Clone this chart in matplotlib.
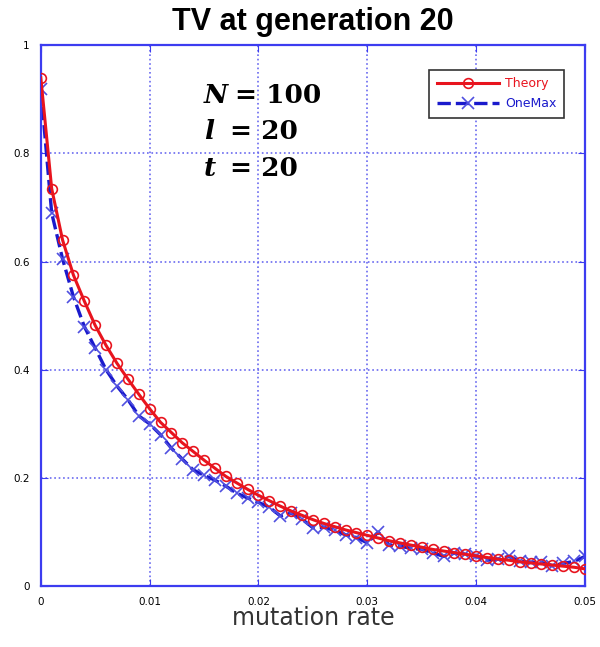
import numpy as np
import matplotlib
matplotlib.use("Agg")
import matplotlib.pyplot as plt

# mutation rate grid (0 .. 0.05, step 0.001)
rates = [i / 1000 for i in range(51)]

theory = [0.94, 0.735, 0.64, 0.575, 0.527, 0.482, 0.445, 0.412, 0.383, 0.355,
          0.328, 0.303, 0.284, 0.265, 0.249, 0.233, 0.218, 0.203, 0.191, 0.179,
          0.168, 0.158, 0.148, 0.139, 0.131, 0.123, 0.116, 0.110, 0.104, 0.099,
          0.094, 0.089, 0.084, 0.080, 0.076, 0.072, 0.068, 0.065, 0.062, 0.059,
          0.056, 0.053, 0.050, 0.048, 0.045, 0.043, 0.041, 0.039, 0.037, 0.035,
          0.032]

onemax = [0.92, 0.69, 0.605, 0.535, 0.48, 0.44, 0.40, 0.37, 0.345, 0.315,
          0.30, 0.28, 0.255, 0.235, 0.215, 0.205, 0.196, 0.185, 0.172, 0.163,
          0.155, 0.146, 0.130, 0.135, 0.124, 0.108, 0.109, 0.103, 0.095, 0.090,
          0.080, 0.100, 0.076, 0.074, 0.070, 0.068, 0.062, 0.055, 0.061, 0.060,
          0.055, 0.048, 0.050, 0.055, 0.046, 0.044, 0.044, 0.038, 0.042, 0.046,
          0.055]

xticks = [0, 0.01, 0.02, 0.03, 0.04, 0.05]
xticklabels = ["0", "0.01", "0.02", "0.03", "0.04", "0.05"]
yticks = [0, 0.2, 0.4, 0.6, 0.8, 1]
yticklabels = ["0", "0.2", "0.4", "0.6", "0.8", "1"]

params = [("N", "100"), ("l", "20"), ("t", "20")]

frameColor = "#3c3cf0"

fig = plt.figure(figsize=(6.0, 6.47), dpi=100)
ax = fig.add_axes([0.068, 0.094, 0.907, 0.836])

#the two curves
ax.plot(rates, theory, color="#e8141e", lw=2.2, marker="o", ms=7,
        mfc="none", mew=1.2, label="Theory", zorder=3)
ax.plot(rates, onemax, color="#1a1acc", lw=2.4, ls=(0, (4, 1.5)), marker="x",
        ms=8, mew=1.2, mec="#5050e0", label="OneMax", zorder=2)

ax.set_xlim(0, 0.05)
ax.set_ylim(0, 1)
ax.set_xticks(xticks)
ax.set_xticklabels(xticklabels)
ax.set_yticks(yticks)
ax.set_yticklabels(yticklabels)
ax.tick_params(direction="in", length=5, color=frameColor, labelsize=7.5,
               pad=8, top=True, right=True)

ax.grid(True, color="#6a6af0", ls=":", lw=1.2)
for s in ax.spines.values():
    s.set_color(frameColor)
    s.set_linewidth(1.6)

ax.set_title("TV at generation 20", fontsize=22, fontweight="bold", pad=11,
             family="Liberation Sans")
ax.set_xlabel("mutation rate", fontsize=17, color="#333333", labelpad=-1)

leg = ax.legend(loc="upper right", bbox_to_anchor=(0.962, 0.955), fontsize=9,
                fancybox=False, edgecolor="#333333", framealpha=1,
                handlelength=5.0, borderpad=0.6, labelspacing=0.55,
                handletextpad=0.5, borderaxespad=0)
leg.get_frame().set_linewidth(1.2)
for txt, line in zip(leg.get_texts(), leg.get_lines()):
    txt.set_color(line.get_color())

#parameter annotations
ys = [0.907, 0.841, 0.773]
eqx = [0.357, 0.347, 0.347]
for (name, val), y, ex in zip(params, ys, eqx):
    ax.text(0.30, y, name, transform=ax.transAxes, fontsize=19,
            family="DejaVu Serif", fontweight="bold", fontstyle="italic",
            va="center")
    ax.text(ex, y, "= " + val, transform=ax.transAxes, fontsize=19,
            family="DejaVu Serif", fontweight="bold", va="center")

fig.savefig("out.png", dpi=100)
